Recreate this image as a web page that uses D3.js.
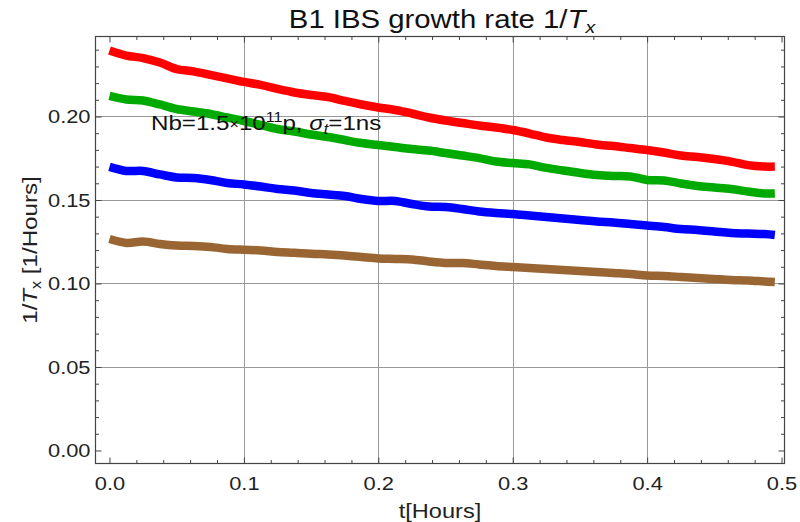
<!DOCTYPE html>
<html>
<head>
<meta charset="utf-8">
<script src="https://cdn.jsdelivr.net/npm/d3@7"></script>
<style>
  html, body { margin: 0; padding: 0; background: #fff; }
  svg { display: block; }
  text { font-family: "Liberation Sans", Arial, sans-serif; }
</style>
</head>
<body>
<svg id="chart" width="800" height="522"></svg>
<script>
// ---- data ----
const tHours = [0, 0.0125, 0.025, 0.0375, 0.05, 0.0625, 0.075, 0.0875, 0.1, 0.1125,
  0.125, 0.1375, 0.15, 0.1625, 0.175, 0.1875, 0.2, 0.2125, 0.225, 0.2375,
  0.25, 0.2625, 0.275, 0.2875, 0.3, 0.3125, 0.325, 0.3375, 0.35, 0.3625,
  0.375, 0.3875, 0.4, 0.4125, 0.425, 0.4375, 0.45, 0.4625, 0.475, 0.4875, 0.495];

const rateRed = [0.2395, 0.2365, 0.2350, 0.2323, 0.2284, 0.2270, 0.2249, 0.2228, 0.2207, 0.2189,
  0.2165, 0.2144, 0.2129, 0.2117, 0.2093, 0.2072, 0.2054, 0.2039, 0.2018, 0.1994,
  0.1976, 0.1961, 0.1946, 0.1934, 0.1919, 0.1898, 0.1874, 0.1859, 0.1847, 0.1832,
  0.1823, 0.1811, 0.1799, 0.1784, 0.1766, 0.1757, 0.1745, 0.1730, 0.1709, 0.1700, 0.1700];

const rateGreen = [0.2123, 0.2102, 0.2096, 0.2072, 0.2045, 0.2030, 0.2015, 0.1994, 0.1973, 0.1949,
  0.1925, 0.1910, 0.1892, 0.1877, 0.1859, 0.1841, 0.1829, 0.1817, 0.1805, 0.1796,
  0.1781, 0.1766, 0.1751, 0.1730, 0.1721, 0.1713, 0.1692, 0.1677, 0.1662, 0.1650,
  0.1644, 0.1641, 0.1620, 0.1617, 0.1599, 0.1584, 0.1575, 0.1566, 0.1551, 0.1539, 0.1539];

const rateBlue = [0.1698, 0.1674, 0.1674, 0.1653, 0.1635, 0.1632, 0.1620, 0.1602, 0.1593, 0.1581,
  0.1566, 0.1557, 0.1542, 0.1533, 0.1524, 0.1506, 0.1494, 0.1494, 0.1476, 0.1461,
  0.1458, 0.1446, 0.1431, 0.1422, 0.1416, 0.1407, 0.1398, 0.1389, 0.1380, 0.1371,
  0.1365, 0.1356, 0.1347, 0.1338, 0.1326, 0.1320, 0.1311, 0.1302, 0.1299, 0.1296, 0.1290];

const rateBrown = [0.1266, 0.1243, 0.1251, 0.1237, 0.1228, 0.1225, 0.1219, 0.1207, 0.1202, 0.1198,
  0.1189, 0.1184, 0.1178, 0.1174, 0.1168, 0.1159, 0.1150, 0.1147, 0.1144, 0.1132,
  0.1123, 0.1123, 0.1114, 0.1105, 0.1099, 0.1093, 0.1087, 0.1081, 0.1075, 0.1069,
  0.1063, 0.1057, 0.1048, 0.1045, 0.1039, 0.1033, 0.1027, 0.1021, 0.1018, 0.1012, 0.1009];

const seriesNames = ["red", "green", "blue", "brown"];
const seriesColors = ["#ff0000", "#00aa00", "#0000ff", "#996633"];
const seriesValues = [rateRed, rateGreen, rateBlue, rateBrown];

const xTicks = [0.0, 0.1, 0.2, 0.3, 0.4, 0.5];
const yTicks = [0.00, 0.05, 0.10, 0.15, 0.20];
const xGrid = [0.1, 0.2, 0.3, 0.4];
const yGrid = [0.05, 0.10, 0.15, 0.20];

// ---- layout ----
const SX = 1.15; // horizontal stretch of text, as in the reference rendering
const svg = d3.select("#chart");
const L = 95.5, R = 784.5, T = 36.5, B = 463.5;
const x = d3.scaleLinear().domain([-0.0104, 0.5022]).range([L, R]);
const y = d3.scaleLinear().domain([-0.0078, 0.2479]).range([B, T]);

function stext(parent, px, py, anchor, size) {
  return parent.append("text")
    .attr("transform", `translate(${px},${py}) scale(${SX},1)`)
    .attr("text-anchor", anchor).attr("font-size", size);
}

// gridlines
const grid = svg.append("g").attr("stroke", "#999").attr("stroke-width", 1);
grid.selectAll("line.gx").data(xGrid).enter().append("line")
  .attr("x1", d => Math.round(x(d)) + 0.5).attr("x2", d => Math.round(x(d)) + 0.5)
  .attr("y1", T).attr("y2", B);
grid.selectAll("line.gy").data(yGrid).enter().append("line")
  .attr("y1", d => Math.round(y(d)) + 0.5).attr("y2", d => Math.round(y(d)) + 0.5)
  .attr("x1", L).attr("x2", R);

// series lines
const line = d3.line()
  .x((d, i) => x(tHours[i]))
  .y(d => y(d))
  .curve(d3.curveCatmullRom.alpha(0.5));

svg.append("g").selectAll("path").data(seriesValues).enter().append("path")
  .attr("d", d => line(d))
  .attr("fill", "none")
  .attr("stroke", (d, i) => seriesColors[i])
  .attr("stroke-width", 8.5)
  .attr("stroke-linejoin", "round");

// frame
svg.append("rect").attr("x", L).attr("y", T).attr("width", R - L).attr("height", B - T)
  .attr("fill", "none").attr("stroke", "#444").attr("stroke-width", 1.2);

const xMinor = d3.range(0, 0.5001, 0.02).filter(v => Math.abs(v * 10 - Math.round(v * 10)) > 1e-6);
const yMinor = d3.range(0, 0.2401, 0.01).filter(v => Math.abs(v * 20 - Math.round(v * 20)) > 1e-6);

function styleAxis(g) {
  g.select(".domain").remove();
  g.selectAll("line").attr("stroke", "#444").attr("stroke-width", 1);
}

// bottom
svg.append("g").attr("transform", `translate(0,${B})`)
  .call(d3.axisBottom(x).tickValues(xTicks).tickSize(-6).tickPadding(13).tickFormat(d3.format(".1f")))
  .call(styleAxis)
  .call(g => g.selectAll("text").attr("font-size", 19).attr("fill", "#222")
    .attr("transform", `scale(${SX},1)`));
svg.append("g").attr("transform", `translate(0,${B})`)
  .call(d3.axisBottom(x).tickValues(xMinor).tickSize(-3.5).tickFormat(""))
  .call(styleAxis);
// top
svg.append("g").attr("transform", `translate(0,${T})`)
  .call(d3.axisTop(x).tickValues(xTicks).tickSize(-6).tickFormat(""))
  .call(styleAxis);
svg.append("g").attr("transform", `translate(0,${T})`)
  .call(d3.axisTop(x).tickValues(xMinor).tickSize(-3.5).tickFormat(""))
  .call(styleAxis);
// left
svg.append("g").attr("transform", `translate(${L},0)`)
  .call(d3.axisLeft(y).tickValues(yTicks).tickSize(-6).tickPadding(5).tickFormat(d3.format(".2f")))
  .call(styleAxis)
  .call(g => g.selectAll("text").attr("font-size", 19).attr("fill", "#222")
    .attr("x", -5 / SX).attr("transform", `scale(${SX},1)`));
svg.append("g").attr("transform", `translate(${L},0)`)
  .call(d3.axisLeft(y).tickValues(yMinor).tickSize(-3.5).tickFormat(""))
  .call(styleAxis);
// right
svg.append("g").attr("transform", `translate(${R},0)`)
  .call(d3.axisRight(y).tickValues(yTicks).tickSize(-6).tickFormat(""))
  .call(styleAxis);
svg.append("g").attr("transform", `translate(${R},0)`)
  .call(d3.axisRight(y).tickValues(yMinor).tickSize(-3.5).tickFormat(""))
  .call(styleAxis);

// title
const title = stext(svg, (L + R) / 2 + 2, 28, "middle", 25.5).attr("fill", "#111");
title.append("tspan").text("B1 IBS growth rate 1/");
title.append("tspan").attr("font-style", "italic").text("T");
title.append("tspan").attr("font-style", "italic").attr("font-size", 17).attr("dy", 5).text("x");

// x label
stext(svg, (L + R) / 2, 518, "middle", 20.5).attr("fill", "#222").text("t[Hours]");

// y label
const yl = svg.append("text")
  .attr("transform", `translate(37,${(T + B) / 2}) rotate(-90) scale(${SX},1)`)
  .attr("text-anchor", "middle").attr("font-size", 21).attr("fill", "#222");
yl.append("tspan").text("1/");
yl.append("tspan").attr("font-style", "italic").text("T");
yl.append("tspan").attr("font-size", 14).attr("dy", 4).text("x");
yl.append("tspan").attr("dy", -4).text(" [1/Hours]");

// annotation
const ann = stext(svg, 151, 130, "start", 21).attr("fill", "#111");
ann.append("tspan").text("Nb=1.5");
ann.append("tspan").attr("font-size", 14).attr("dy", -1).text("×");
ann.append("tspan").attr("dy", 1).text("10");
ann.append("tspan").attr("font-size", 14).attr("dy", -8).text("11");
ann.append("tspan").attr("dy", 8).text("p, ");
ann.append("tspan").attr("font-style", "italic").text("σ");
ann.append("tspan").attr("font-style", "italic").attr("font-size", 14).attr("dy", 4).text("t");
ann.append("tspan").attr("dy", -4).text("=1ns");
</script>
</body>
</html>
